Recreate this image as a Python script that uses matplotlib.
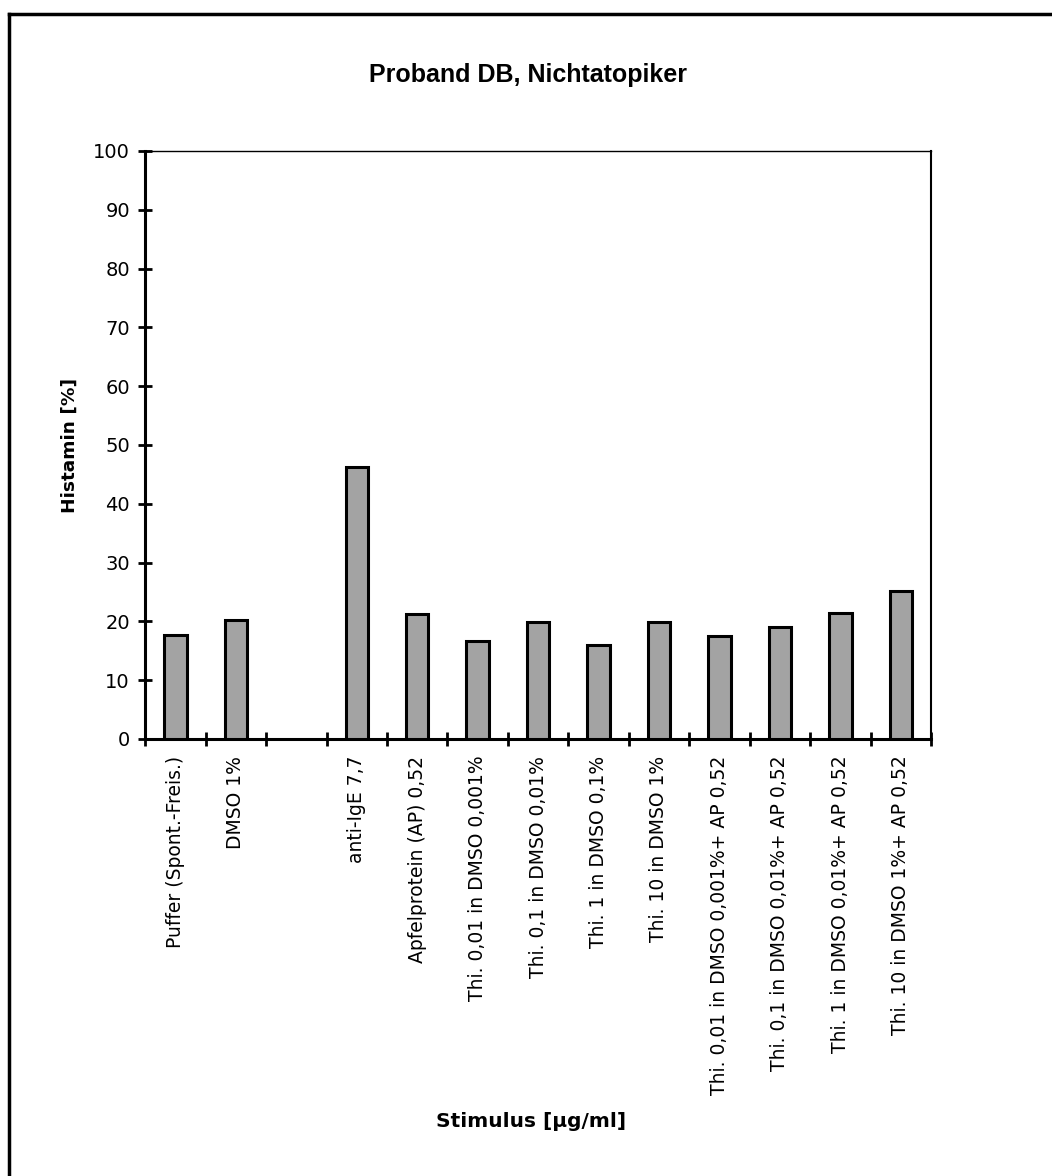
import matplotlib
matplotlib.use("Agg")
import matplotlib.pyplot as plt
from matplotlib.lines import Line2D
import numpy as np

# Stimulus categories (empty slot separates controls from stimulated samples)
categories = [
    "Puffer (Spont.-Freis.)",
    "DMSO 1%",
    "",
    "anti-IgE 7,7",
    "Apfelprotein (AP) 0,52",
    "Thi. 0,01 in DMSO 0,001%",
    "Thi. 0,1 in DMSO 0,01%",
    "Thi. 1 in DMSO 0,1%",
    "Thi. 10 in DMSO 1%",
    "Thi. 0,01 in DMSO 0,001%+ AP 0,52",
    "Thi. 0,1 in DMSO 0,01%+ AP 0,52",
    "Thi. 1 in DMSO 0,01%+ AP 0,52",
    "Thi. 10 in DMSO 1%+ AP 0,52",
]
# Histamine release in percent (None = no measurement)
histamin = [17.7, 20.3, None, 46.2, 21.3, 16.6, 19.9, 16.0, 19.9, 17.5, 19.1, 21.4, 25.2]

y_ticks = list(range(0, 101, 10))

plt.rcParams["font.family"] = ["DejaVu Sans"]

fig = plt.figure(figsize=(10.52, 11.76), dpi=100)
ax = fig.add_axes([0.138, 0.3716, 0.747, 0.50])

x = np.arange(len(categories))
vals = np.array([np.nan if v is None else v for v in histamin], dtype=float)
mask = ~np.isnan(vals)
ax.bar(x[mask], vals[mask], width=0.37, color="#a3a3a3",
       edgecolor="black", linewidth=2.2, zorder=3)

ax.set_xlim(-0.5, len(categories) - 0.5)
ax.set_ylim(0, 100)
ax.set_yticks(y_ticks)
ax.set_yticklabels([str(t) for t in y_ticks], fontsize=14)

# Tick marks at the category boundaries, labels centred on the bars
ax.set_xticks(np.arange(-0.5, len(categories) + 0.5, 1.0))
ax.set_xticklabels([])
ax.set_xticks(x, minor=True)
ax.set_xticklabels(categories, minor=True, rotation=90, fontsize=13.5,
                   va="top", ha="center")
ax.tick_params(axis="x", which="minor", length=0, pad=12)
ax.tick_params(axis="x", which="major", direction="inout", length=10, width=2)
ax.tick_params(axis="y", direction="inout", length=10, width=2, pad=6)

for side in ("left", "bottom"):
    ax.spines[side].set_linewidth(2.2)
ax.spines["top"].set_linewidth(1.0)
ax.spines["right"].set_linewidth(1.5)

ax.set_ylabel("Histamin [%]", fontsize=13.3, fontweight="bold", labelpad=10)
fig.text(0.505, 0.046, "Stimulus [µg/ml]", fontsize=14.5, fontweight="bold",
         ha="center", va="center")
fig.text(0.502, 0.936, "Proband DB, Nichtatopiker", fontsize=18,
         fontweight="bold", ha="center", va="center",
         family=["Liberation Sans", "DejaVu Sans"])

# Frame around the chart area
fig.add_artist(Line2D([0.0086, 0.0086], [0.0, 0.988], transform=fig.transFigure,
                      color="black", linewidth=2.5))
fig.add_artist(Line2D([0.0086, 1.0], [0.988, 0.988], transform=fig.transFigure,
                      color="black", linewidth=2.5))

fig.savefig("out.png", dpi=100, facecolor="white")
